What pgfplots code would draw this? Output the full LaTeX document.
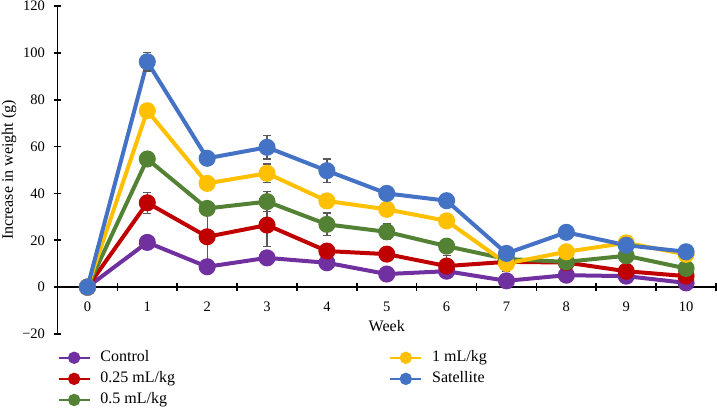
\documentclass[border=0pt]{standalone}
\usepackage{fontspec}
\setmainfont{Liberation Serif}
\usepackage{pgfplots}
\usepackage{pgfplotstable}
\pgfplotsset{compat=1.18}

\definecolor{cControl}{HTML}{7030A0}
\definecolor{cLow}{HTML}{C00000}
\definecolor{cMid}{HTML}{548235}
\definecolor{cHigh}{HTML}{FFC000}
\definecolor{cSat}{HTML}{4472C4}
\definecolor{errgray}{HTML}{595959}

% weekly weight gain (g), mean per group
\pgfplotstableread{
week control low mid high sat
0  0.0  0.0  0.0  0.0  0.0
1  19.1 36.0 54.7 75.3 96.2
2  8.7  21.5 33.6 44.3 55.0
3  12.5 26.5 36.5 48.6 59.7
4  10.4 15.4 26.8 36.8 49.7
5  5.6  14.1 23.6 33.2 40.0
6  6.8  9.0  17.5 28.3 36.9
7  2.7  10.8 12.0 10.1 14.4
8  5.1  10.5 10.8 15.1 23.4
9  4.7  6.8  13.4 18.9 17.9
10 1.8  4.7  8.0  14.0 15.1
}\gain

% points that carry a visible SD bar: week, mean, sd
\pgfplotstableread{
week y e
6  6.8 2.0
10 1.8 2.2
}\errControl
\pgfplotstableread{
week y e
1 36.0 4.5
2 21.5 10.7
3 26.5 9.3
6 9.0  4.4
}\errLow
\pgfplotstableread{
week y e
3 36.5 4.3
4 26.8 4.8
5 23.6 3.4
}\errMid
\pgfplotstableread{
week y e
1  75.3 2.2
2  44.3 2.8
3  48.6 3.9
4  36.8 2.5
5  33.2 1.8
7  10.1 3.3
10 14.0 1.3
}\errHigh
\pgfplotstableread{
week y e
1 96.2 3.9
3 59.7 5.0
4 49.7 5.0
}\errSat

\pgfplotsset{
  series/.style={line width=4pt, mark=*, mark size=6.5pt, mark options={solid}},
  sdbars/.style={draw=none, no markers,
    error bars/y dir=both, error bars/y explicit,
    error bars/error bar style={draw=errgray, line width=1.3pt},
    error bars/error mark options={rotate=90, mark size=4pt, draw=errgray, line width=1.3pt}},
}

\begin{document}
\begin{tikzpicture}
\useasboundingbox (-57.5pt,-74pt) rectangle (659.5pt,334pt);
\begin{axis}[
  at={(0pt,0pt)}, anchor=south west,
  scale only axis, width=658.5pt, height=328pt,
  xmin=-0.5, xmax=10.5, ymin=-20, ymax=120,
  clip=false,
  axis x line*=middle, axis y line*=left,
  axis line style={line width=1.6pt, black},
  tick style={line width=1.6pt, black},
  tick align=center, major tick length=8pt,
  xtick={-0.5,0.5,...,10.5}, xticklabels={},
  extra x ticks={0,1,2,3,4,5,6,7,8,9,10},
  extra x tick labels={0,1,2,3,4,5,6,7,8,9,10},
  extra x tick style={tick style={draw=none},
    xticklabel style={yshift=-7pt}},
  ytick={-20,0,20,40,60,80,100,120},
  yticklabels={−20,0,20,40,60,80,100,120},
  yticklabel style={xshift=-5pt},
  tick label style={font=\fontsize{14.5}{16}\selectfont},
  xlabel={Week}, ylabel={Increase in weight (g)},
  label style={font=\fontsize{16}{18}\selectfont},
  xlabel style={at={(axis description cs:0.5,0.0244)}, anchor=center},
  ylabel style={at={(axis description cs:-0.0737,0.5)}, anchor=center},
  legend columns=2,
  legend cell align=left,
  legend image code/.code={\draw[#1, mark repeat=2, mark phase=2] plot coordinates {(0pt,0pt) (15.5pt,0pt) (31pt,0pt)};},
  legend style={at={(0,0)}, anchor=north west, yshift=-16.5pt,
    draw=none, fill=none, inner sep=0pt, outer sep=0pt,
    font=\fontsize{16}{18}\selectfont,
    nodes={inner sep=0pt, text height=11pt, text depth=3.5pt},
    row sep=6.6pt,
    /tikz/every odd column/.append style={column sep=9.7pt},
    /tikz/every even column/.append style={column sep=214pt}},
]
\addplot[series, color=cControl, forget plot] table[x=week, y=control] {\gain};
\addplot[sdbars, forget plot] table[x=week, y=y, y error=e] {\errControl};
\addplot[series, color=cLow, forget plot] table[x=week, y=low] {\gain};
\addplot[sdbars, forget plot] table[x=week, y=y, y error=e] {\errLow};
\addplot[series, color=cMid, forget plot] table[x=week, y=mid] {\gain};
\addplot[sdbars, forget plot] table[x=week, y=y, y error=e] {\errMid};
\addplot[series, color=cHigh, forget plot] table[x=week, y=high] {\gain};
\addplot[sdbars, forget plot] table[x=week, y=y, y error=e] {\errHigh};
\addplot[series, color=cSat, forget plot] table[x=week, y=sat] {\gain};
\addplot[sdbars, forget plot] table[x=week, y=y, y error=e] {\errSat};

% legend laid out column by column
\addlegendimage{color=cControl, line width=2.3pt, mark=*, mark size=5pt}
\addlegendentry{Control}
\addlegendimage{color=cHigh, line width=2.3pt, mark=*, mark size=5pt}
\addlegendentry{1 mL/kg}
\addlegendimage{color=cLow, line width=2.3pt, mark=*, mark size=5pt}
\addlegendentry{0.25 mL/kg}
\addlegendimage{color=cSat, line width=2.3pt, mark=*, mark size=5pt}
\addlegendentry{Satellite}
\addlegendimage{color=cMid, line width=2.3pt, mark=*, mark size=5pt}
\addlegendentry{0.5 mL/kg}
\end{axis}
\end{tikzpicture}
\end{document}
